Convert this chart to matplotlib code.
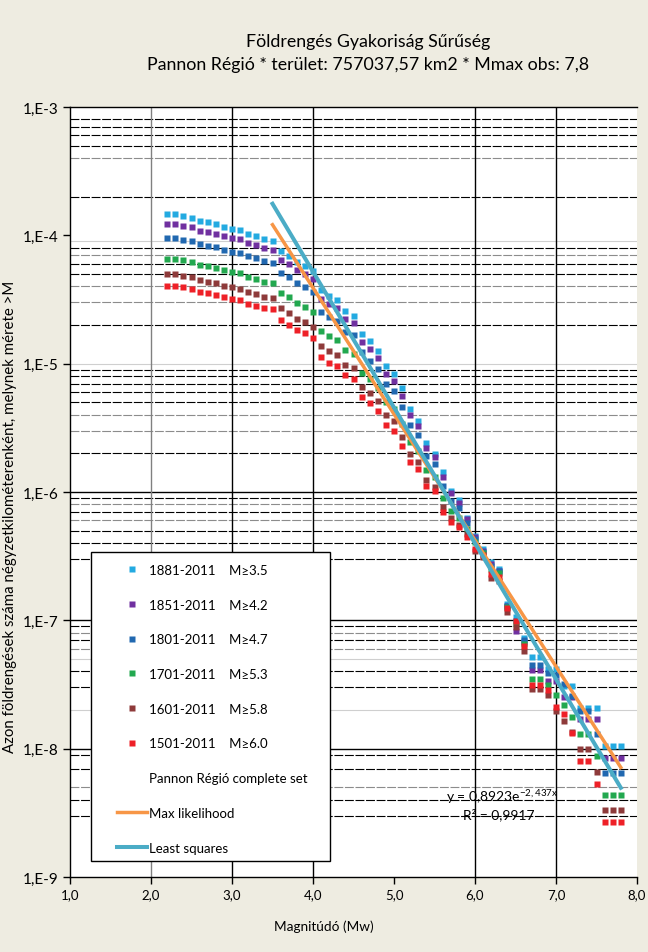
import matplotlib
matplotlib.use('Agg')
import numpy as np
import matplotlib.pyplot as plt
from matplotlib.lines import Line2D
from matplotlib.patches import Rectangle

plt.rcParams['font.family'] = ['Lato', 'DejaVu Sans']
plt.rcParams['mathtext.fontset'] = 'custom'
plt.rcParams['mathtext.rm'] = 'Lato'

# magnitudes (x) shared by all six series
magnitudes = [2.2, 2.3, 2.4, 2.5, 2.6, 2.7, 2.8, 2.9, 3.0, 3.1,
              3.2, 3.3, 3.4, 3.5, 3.6, 3.7, 3.8, 3.9, 4.0, 4.1,
              4.2, 4.3, 4.4, 4.5, 4.6, 4.7, 4.8, 4.9, 5.0, 5.1,
              5.2, 5.3, 5.4, 5.5, 5.6, 5.7, 5.8, 5.9, 6.0, 6.1,
              6.2, 6.3, 6.4, 6.5, 6.6, 6.7, 6.8, 6.9, 7.0, 7.1,
              7.2, 7.3, 7.4, 7.5, 7.6, 7.7, 7.8]

s1881 = [1.46e-4, 1.46e-4, 1.41e-4, 1.36e-4, 1.29e-4, 1.26e-4, 1.22e-4, 1.16e-4, 1.13e-4, 1.10e-4,
         1.02e-4, 9.88e-5, 9.41e-5, 9.03e-5, 7.55e-5, 6.94e-5, 6.16e-5, 5.77e-5, 5.24e-5, 3.73e-5,
         3.35e-5, 3.12e-5, 2.56e-5, 2.34e-5, 1.71e-5, 1.49e-5, 1.26e-5, 9.59e-6, 8.26e-6, 6.43e-6,
         4.44e-6, 3.56e-6, 2.41e-6, 1.98e-6, 1.42e-6, 1.01e-6, 8.66e-7, 6.30e-7, 4.57e-7, 3.60e-7,
         2.85e-7, 2.51e-7, 1.34e-7, 1.06e-7, 7.28e-8, 5.15e-8, 5.15e-8, 4.18e-8, 4.18e-8, 3.10e-8,
         3.10e-8, 2.08e-8, 2.08e-8, 2.08e-8, 1.04e-8, 1.04e-8, 1.04e-8]
s1851 = [1.22e-4, 1.22e-4, 1.18e-4, 1.16e-4, 1.09e-4, 1.06e-4, 1.03e-4, 9.83e-5, 9.58e-5, 9.31e-5,
         8.67e-5, 8.41e-5, 8.01e-5, 7.73e-5, 6.46e-5, 5.98e-5, 5.37e-5, 4.97e-5, 4.54e-5, 3.17e-5,
         2.90e-5, 2.70e-5, 2.22e-5, 2.06e-5, 1.47e-5, 1.30e-5, 1.10e-5, 8.26e-6, 7.33e-6, 5.63e-6,
         3.98e-6, 3.25e-6, 2.21e-6, 1.86e-6, 1.30e-6, 9.82e-7, 8.16e-7, 6.16e-7, 4.46e-7, 3.49e-7,
         2.75e-7, 2.44e-7, 1.29e-7, 8.21e-8, 6.78e-8, 4.10e-8, 4.10e-8, 3.39e-8, 3.36e-8, 2.53e-8,
         2.53e-8, 1.69e-8, 1.69e-8, 1.69e-8, 8.46e-9, 8.46e-9, 8.46e-9]
s1801 = [9.48e-5, 9.48e-5, 9.19e-5, 8.98e-5, 8.51e-5, 8.26e-5, 8.07e-5, 7.69e-5, 7.46e-5, 7.24e-5,
         6.87e-5, 6.62e-5, 6.28e-5, 6.09e-5, 5.09e-5, 4.71e-5, 4.23e-5, 3.98e-5, 3.64e-5, 2.54e-5,
         2.32e-5, 2.15e-5, 1.78e-5, 1.66e-5, 1.23e-5, 1.05e-5, 9.04e-6, 6.91e-6, 6.09e-6, 4.60e-6,
         3.31e-6, 2.77e-6, 1.90e-6, 1.64e-6, 1.12e-6, 8.51e-7, 7.46e-7, 5.73e-7, 4.30e-7, 3.41e-7,
         2.65e-7, 2.42e-7, 1.30e-7, 9.88e-8, 7.03e-8, 4.49e-8, 4.49e-8, 3.87e-8, 3.75e-8, 3.19e-8,
         2.56e-8, 1.98e-8, 1.98e-8, 1.29e-8, 6.43e-9, 6.43e-9, 6.43e-9]
s1701 = [6.54e-5, 6.54e-5, 6.39e-5, 6.16e-5, 5.87e-5, 5.74e-5, 5.53e-5, 5.34e-5, 5.18e-5, 5.06e-5,
         4.74e-5, 4.59e-5, 4.35e-5, 4.23e-5, 3.53e-5, 3.29e-5, 2.95e-5, 2.78e-5, 2.54e-5, 1.79e-5,
         1.63e-5, 1.52e-5, 1.27e-5, 1.18e-5, 8.41e-6, 7.59e-6, 6.50e-6, 5.00e-6, 4.44e-6, 3.39e-6,
         2.47e-6, 2.09e-6, 1.49e-6, 1.30e-6, 8.98e-7, 7.11e-7, 6.24e-7, 5.15e-7, 4.06e-7, 3.35e-7,
         2.51e-7, 2.34e-7, 1.27e-7, 9.36e-8, 6.54e-8, 3.49e-8, 3.49e-8, 3.15e-8, 2.62e-8, 2.19e-8,
         1.75e-8, 1.30e-8, 1.30e-8, 8.72e-9, 4.38e-9, 4.38e-9, 4.38e-9]
s1601 = [4.97e-5, 4.97e-5, 4.85e-5, 4.74e-5, 4.46e-5, 4.35e-5, 4.23e-5, 4.05e-5, 3.94e-5, 3.84e-5,
         3.60e-5, 3.49e-5, 3.31e-5, 3.23e-5, 2.70e-5, 2.50e-5, 2.24e-5, 2.11e-5, 1.94e-5, 1.37e-5,
         1.25e-5, 1.17e-5, 9.76e-6, 9.20e-6, 6.54e-6, 5.88e-6, 5.12e-6, 3.98e-6, 3.56e-6, 2.67e-6,
         1.99e-6, 1.70e-6, 1.23e-6, 1.10e-6, 7.60e-7, 6.24e-7, 5.56e-7, 4.73e-7, 3.47e-7, 3.12e-7,
         2.14e-7, 2.04e-7, 1.17e-7, 8.83e-8, 5.80e-8, 2.92e-8, 2.92e-8, 2.63e-8, 1.97e-8, 1.65e-8,
         1.35e-8, 9.94e-9, 9.94e-9, 6.61e-9, 3.31e-9, 3.31e-9, 3.31e-9]
s1501 = [4.05e-5, 4.05e-5, 3.94e-5, 3.82e-5, 3.62e-5, 3.53e-5, 3.45e-5, 3.29e-5, 3.19e-5, 3.12e-5,
         2.93e-5, 2.83e-5, 2.70e-5, 2.67e-5, 2.18e-5, 2.01e-5, 1.83e-5, 1.72e-5, 1.58e-5, 1.12e-5,
         1.02e-5, 9.59e-6, 8.12e-6, 7.55e-6, 5.47e-6, 4.91e-6, 4.28e-6, 3.33e-6, 3.00e-6, 2.27e-6,
         1.72e-6, 1.51e-6, 1.12e-6, 1.01e-6, 6.95e-7, 5.81e-7, 5.31e-7, 4.44e-7, 3.60e-7, 3.23e-7,
         2.30e-7, 2.16e-7, 1.24e-7, 9.93e-8, 6.35e-8, 3.15e-8, 3.15e-8, 2.88e-8, 2.11e-8, 1.85e-8,
         1.33e-8, 7.97e-9, 7.97e-9, 5.30e-9, 2.67e-9, 2.67e-9, 2.67e-9]

series_labels = ['1881-2011    M\u22653.5', '1851-2011    M\u22654.2', '1801-2011    M\u22654.7',
                 '1701-2011    M\u22655.3', '1601-2011    M\u22655.8', '1501-2011    M\u22656.0']
series_colors = ['#23AAE1', '#7030A0', '#2168B0', '#22A84F', '#8E3A3A', '#EE2027']

# fitted lines
fit_range = [3.5, 7.8]
ls_coef, ls_exp = 0.8923, -2.437      # least squares: y = 0,8923 e^(-2,437x)
ml_a, ml_b = -0.475, -0.9835          # max likelihood: log10 N = a + b*M

x_ticks = [1, 2, 3, 4, 5, 6, 7, 8]
x_labels = ['1,0', '2,0', '3,0', '4,0', '5,0', '6,0', '7,0', '8,0']
y_ticks = [1e-9, 1e-8, 1e-7, 1e-6, 1e-5, 1e-4, 1e-3]
y_labels = ['1,E-9', '1,E-8', '1,E-7', '1,E-6', '1,E-5', '1,E-4', '1,E-3']

# horizontal grid lines as they appear in the picture
grid_solid = [1e-6, 1e-7, 1e-8]
grid_dark = [8e-4, 7e-4, 6e-4, 5e-4, 2e-4, 8e-5, 6e-5, 5e-5, 2e-5, 9e-6, 8e-6, 7e-6, 6e-6, 5e-6,
             2e-6, 9e-7, 7e-7, 5e-7, 4e-7, 3e-7, 9e-8, 7e-8, 4e-8, 3e-8, 9e-9, 7e-9, 4e-9, 3e-9]
grid_gray = [4e-4, 7e-5, 4e-5, 3e-5, 4e-6, 3e-6, 8e-7, 6e-7, 8e-8, 6e-8, 5e-9]
grid_light = [9e-5, 1e-5, 5e-8, 2e-8]
vgrid_dark = [3, 4, 6, 7]
vgrid_gray = [2]

fig = plt.figure(figsize=(6.48, 9.53), dpi=100)
fig.patch.set_facecolor('#EEECE1')
ax = fig.add_axes([70 / 648, 1 - 878 / 953, 567 / 648, 770 / 953])
ax.set_facecolor('white')
ax.set_yscale('log')
ax.set_xlim(1, 8)
ax.set_ylim(1e-9, 1e-3)

for v in grid_solid:
    ax.axhline(v, color='black', lw=1.0, zorder=1)
for v in grid_dark:
    ax.axhline(v, color='black', lw=0.8, ls=(0, (8, 1.5)), zorder=1)
for v in grid_gray:
    ax.axhline(v, color='#8C8C8C', lw=0.8, ls=(0, (8, 1.5)), zorder=1)
for v in grid_light:
    ax.axhline(v, color='#CFCFCF', lw=0.8, zorder=1)
for v in vgrid_dark:
    ax.axvline(v, color='black', lw=1.0, zorder=1)
for v in vgrid_gray:
    ax.axvline(v, color='#808080', lw=1.0, zorder=1)

for vals, lab, col in zip([s1881, s1851, s1801, s1701, s1601, s1501], series_labels, series_colors):
    ax.plot(magnitudes, vals, ls='none', marker='s', ms=4.3, mec='none', color=col, label=lab, zorder=3)

mm = np.linspace(fit_range[0], fit_range[1], 100)
ax.plot(mm, 10 ** (ml_a + ml_b * mm), color='#F79646', lw=2.5, zorder=4, label='Max likelihood')
ax.plot(mm, ls_coef * np.exp(ls_exp * mm), color='#4BACC6', lw=2.9, zorder=4, label='Least squares')

fig.text(446 / 648, 1 - 797 / 953, 'y = 0,8923e$^{\\mathrm{-2,437x}}$', fontsize=10, va='center', ha='left', zorder=6)
fig.text(463 / 648, 1 - 815 / 953, 'R\u00b2 = 0,9917', fontsize=10, va='center', ha='left', zorder=6)

ax.set_xticks(x_ticks)
ax.set_xticklabels(x_labels)
ax.set_yticks(y_ticks)
ax.set_yticklabels(y_labels)
ax.yaxis.set_minor_locator(matplotlib.ticker.NullLocator())
ax.tick_params(direction='out', length=5, width=1, pad=3)
ax.tick_params(axis='x', labelsize=9.5)
ax.tick_params(axis='y', labelsize=11)
for s in ['left', 'bottom', 'top']:
    ax.spines[s].set_color('black')
    ax.spines[s].set_linewidth(1)
ax.spines['right'].set_visible(False)

# legend box
ax.add_patch(Rectangle((91 / 648, 1 - 862 / 953), 239 / 648, 309 / 953, transform=fig.transFigure,
                       facecolor='white', edgecolor='black', lw=1, zorder=5))
handles, labels = ax.get_legend_handles_labels()
blank = Line2D([], [], ls='none', marker=None)
handles = handles[:6] + [blank] + handles[6:]
labels = labels[:6] + ['Pannon Régió complete set'] + labels[6:]
leg = ax.legend(handles, labels, loc='upper left', bbox_to_anchor=(117 / 648, 1 - 565 / 953),
                bbox_transform=fig.transFigure, frameon=False, fontsize=9.5, handlelength=2.3,
                handletextpad=0.15, labelspacing=1.72, borderpad=0, borderaxespad=0)
leg.set_zorder(6)

fig.text(368 / 648, 1 - 42 / 953, 'Földrengés Gyakoriság Sűrűség', ha='center', va='center', fontsize=12.8)
fig.text(368 / 648, 1 - 65 / 953, 'Pannon Régió * terület: 757037,57 km2 * Mmax obs: 7,8',
         ha='center', va='center', fontsize=12.8)
fig.text(324 / 648, 1 - 927 / 953, 'Magnitúdó (Mw)', ha='center', va='center', fontsize=9.8)
fig.text(10 / 648, 1 - 517 / 953, 'Azon földrengések száma négyzetkilométerenként, melynek mérete >M',
         ha='center', va='center', rotation=90, fontsize=10.8)

fig.savefig('out.png', dpi=100, facecolor=fig.get_facecolor())
